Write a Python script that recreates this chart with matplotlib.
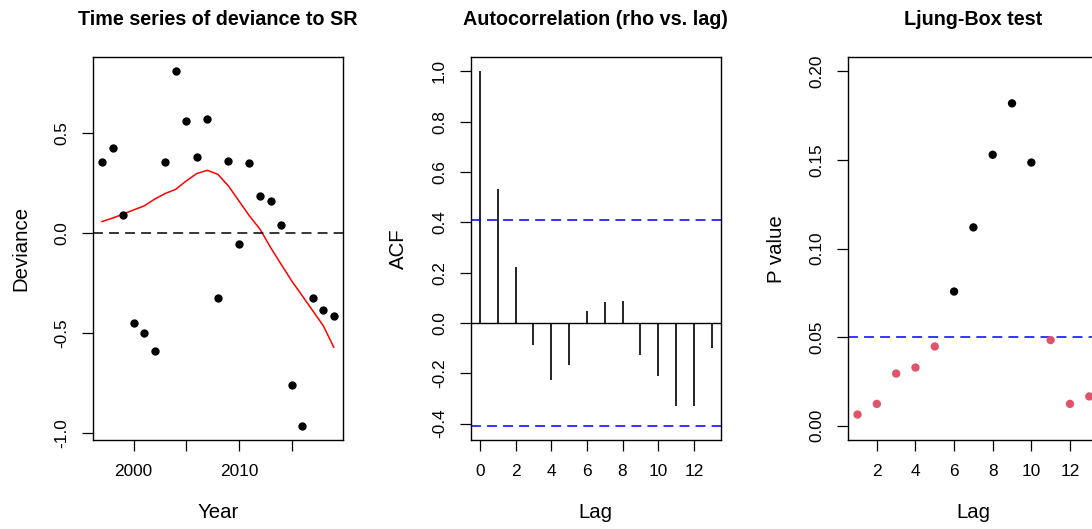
"""Deviance to SR: time series, autocorrelation and Ljung-Box p-values."""
import matplotlib

matplotlib.use("Agg")

import matplotlib.pyplot as plt
import numpy as np

plt.rcParams["font.family"] = ["Liberation Sans", "DejaVu Sans"]
plt.rcParams["axes.unicode_minus"] = False

# --- data ------------------------------------------------------------------
years = list(range(1997, 2020))
deviance = [0.358, 0.425, 0.092, -0.448, -0.497, -0.587, 0.358, 0.808, 0.558,
            0.380, 0.572, -0.323, 0.363, -0.052, 0.353, 0.185, 0.162, 0.042,
            -0.760, -0.963, -0.323, -0.385, -0.412]
smooth = [0.058, 0.075, 0.095, 0.116, 0.136, 0.170, 0.198, 0.219, 0.261,
          0.298, 0.314, 0.294, 0.236, 0.161, 0.086, 0.020, -0.071, -0.155,
          -0.238, -0.312, -0.387, -0.462, -0.570]

acf_lags = list(range(0, 14))
acf_vals = [1.0, 0.534, 0.222, -0.087, -0.225, -0.166, 0.046, 0.085, 0.089,
            -0.126, -0.212, -0.331, -0.331, -0.098]
acf_ci = 0.4087

lb_lags = list(range(1, 14))
lb_pvals = [0.0064, 0.0124, 0.0295, 0.0329, 0.0448, 0.0758, 0.112, 0.153,
            0.182, 0.1486, 0.0484, 0.0124, 0.0166]
alpha = 0.05

TICK_FS = 12.4
LABEL_FS = 14.7
TITLE_FS = 14.2
DASH = (6.5, 4)
R_RED = "#DF536B"


def style_axes(ax, title, xlabel, ylabel):
    for side in ax.spines.values():
        side.set_linewidth(1.0)
    ax.tick_params(direction="out", length=8, width=0.9, labelsize=TICK_FS, pad=9)
    ax.tick_params(axis="y", labelrotation=90)
    for lab in ax.get_yticklabels():
        lab.set_va("center")
    ax.set_xlabel(xlabel, fontsize=LABEL_FS)
    ax.set_ylabel(ylabel, fontsize=LABEL_FS)
    ax.xaxis.set_label_coords(0.5, -0.19)
    ax.xaxis.label.set_va("center")
    ax.yaxis.set_label_coords(-0.288, 0.5)
    ax.yaxis.label.set_va("center")
    ax.text(0.5, 1.10, title, transform=ax.transAxes, ha="center", va="center",
            fontsize=TITLE_FS, fontweight="bold")


def padded(lo, hi, frac=0.04):
    span = hi - lo
    return lo - frac * span, hi + frac * span


fig = plt.figure(figsize=(10.92, 5.29), dpi=100)
bottom, height = 0.1682, 0.7235
width = 0.2292

# panel 1: time series
ax1 = fig.add_axes([0.0849, bottom, width, height])
ax1.scatter(years, deviance, s=36, color="black", zorder=3, linewidths=0)
ax1.plot(years, smooth, color="red", linewidth=1.1)
ax1.axhline(0, color="black", linewidth=1.1, dashes=DASH)
ax1.set_xticks([2000, 2005, 2010, 2015], ["2000", "", "2010", ""])
ax1.set_yticks([-1.0, -0.5, 0.0, 0.5], ["-1.0", "-0.5", "0.0", "0.5"])
ax1.set_xlim(*padded(min(years), max(years)))
ax1.set_ylim(*padded(min(deviance), max(deviance)))
style_axes(ax1, "Time series of deviance to SR", "Year", "Deviance")

# panel 2: autocorrelation
ax2 = fig.add_axes([0.4310, bottom, width, height])
ax2.vlines(acf_lags, 0, acf_vals, color="black", linewidth=1.2)
ax2.axhline(0, color="black", linewidth=1.0)
for c in (acf_ci, -acf_ci):
    ax2.axhline(c, color="blue", linewidth=1.1, dashes=DASH)
ax2.set_xticks(range(0, 13, 2))
yt = np.arange(-0.4, 1.01, 0.2)
ax2.set_yticks(yt, [f"{v:.1f}" if abs(v) > 1e-9 else "0.0" for v in yt])
ax2.set_xlim(*padded(min(acf_lags), max(acf_lags)))
ax2.set_ylim(*padded(-acf_ci, max(acf_vals)))
style_axes(ax2, "Autocorrelation (rho vs. lag)", "Lag", "ACF")

# panel 3: Ljung-Box p-values (right part cut off like the reference)
ax3 = fig.add_axes([0.7768, bottom, width, height])
cols = ["black" if p >= alpha else R_RED for p in lb_pvals]
ax3.scatter(lb_lags, lb_pvals, s=36, c=cols, zorder=3, linewidths=0)
ax3.axhline(alpha, color="blue", linewidth=1.1, dashes=DASH)
ax3.set_xticks(range(2, 13, 2))
yt = np.arange(0, 0.201, 0.05)
ax3.set_yticks(yt, [f"{v:.2f}" for v in yt])
ax3.set_xlim(*padded(min(lb_lags), max(lb_lags)))
ax3.set_ylim(*padded(0, 0.2))
style_axes(ax3, "Ljung-Box test", "Lag", "P value")

fig.savefig("out.png", dpi=100)
